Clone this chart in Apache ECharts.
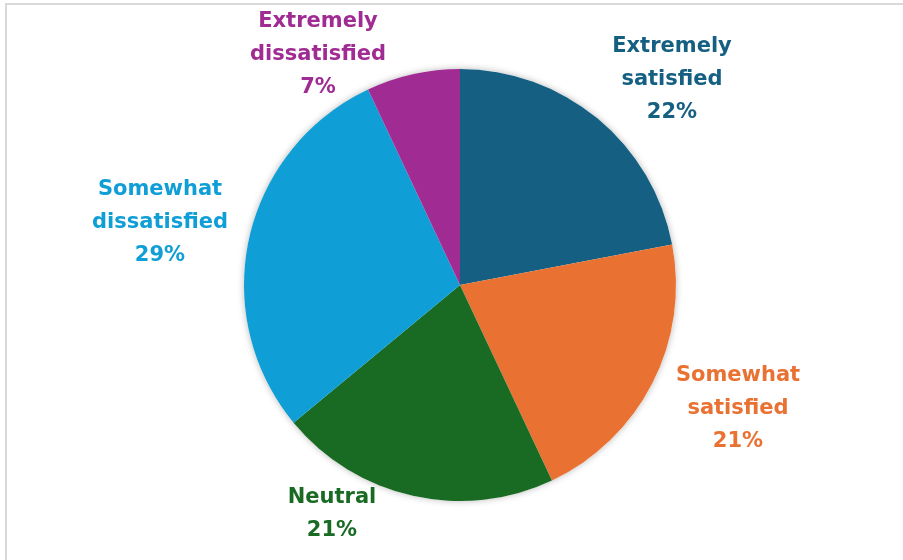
<!DOCTYPE html>
<html>
<head>
<meta charset="utf-8">
<script src="https://cdn.jsdelivr.net/npm/echarts@6/dist/echarts.min.js"></script>
<style>
  html, body { margin: 0; padding: 0; background: #ffffff; }
  #chart { width: 903px; height: 560px; }
</style>
</head>
<body>
<div id="chart"></div>
<script>
// Satisfaction survey breakdown
const categories = ['Extremely satisfied', 'Somewhat satisfied', 'Neutral', 'Somewhat dissatisfied', 'Extremely dissatisfied'];
const shares = [22, 21, 21, 29, 7];
const colors = ['#156082', '#E97132', '#196B24', '#0F9ED5', '#A02B93'];

// Label anchor points (centre of each text block)
const labelSpots = [[672, 80], [738, 409], [332, 514], [160, 223], [318, 55]];

const pieCenter = [460, 285];
const pieRadius = 216;

const chart = echarts.init(document.getElementById('chart'), null, { renderer: 'canvas' });

chart.setOption({
  animation: false,
  backgroundColor: '#ffffff',
  graphic: [{
    type: 'rect',
    shape: { x: 6, y: 4, width: 1000, height: 1000 },
    style: { fill: 'none', stroke: '#d9d9d9', lineWidth: 2 },
    silent: true
  }],
  series: [
    {
      // soft drop shadow under the whole disc
      type: 'pie',
      silent: true,
      z: 1,
      center: pieCenter,
      radius: pieRadius,
      data: [{ value: 1, name: '' }],
      itemStyle: { color: '#ffffff', shadowBlur: 7, shadowColor: 'rgba(0,0,0,0.28)' },
      label: { show: false },
      labelLine: { show: false },
      emphasis: { disabled: true }
    },
    {
      type: 'pie',
      z: 2,
      center: pieCenter,
      radius: pieRadius,
      startAngle: 90,
      clockwise: true,
      data: categories.map((name, i) => ({
        name,
        value: shares[i],
        itemStyle: { color: colors[i] },
        label: { color: colors[i] }
      })),
      itemStyle: { borderWidth: 0 },
      label: {
        show: true,
        position: 'outside',
        formatter: p => p.name.replace(' ', '\n') + '\n' + p.value + '%',
        fontFamily: 'DejaVu Sans',
        fontWeight: 'bold',
        fontSize: 21,
        lineHeight: 33,
        align: 'center'
      },
      labelLine: { show: false },
      labelLayout: params => {
        const s = labelSpots[params.dataIndex];
        return { x: s[0], y: s[1], align: 'center', verticalAlign: 'middle' };
      },
      emphasis: { disabled: true }
    }
  ]
});
</script>
</body>
</html>
